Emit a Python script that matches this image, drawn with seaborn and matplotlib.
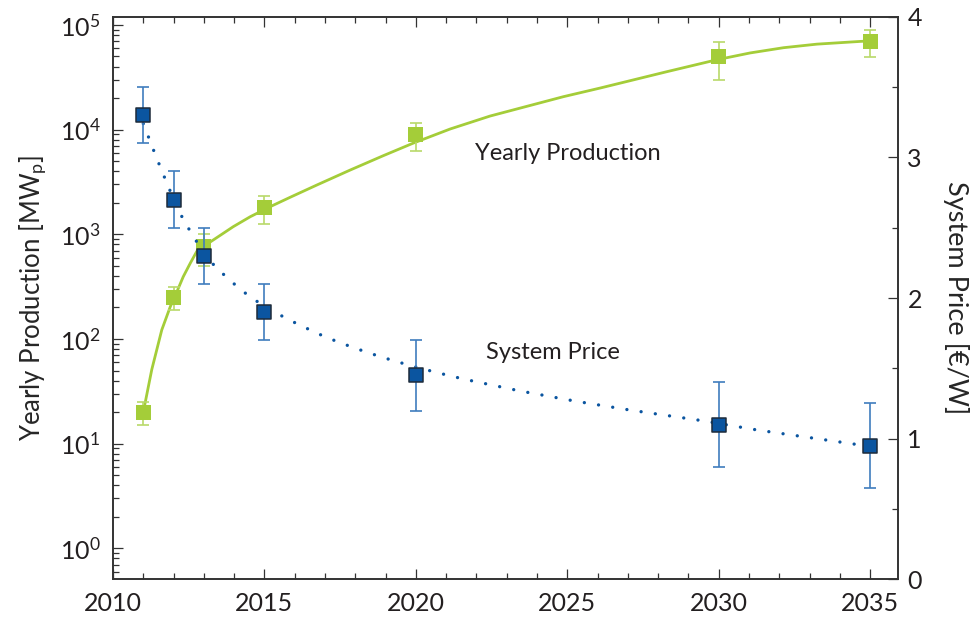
import numpy as np
import pandas as pd
import matplotlib
matplotlib.use("Agg")
import matplotlib.pyplot as plt
import seaborn as sns
from matplotlib.ticker import LogLocator, MultipleLocator, NullFormatter

# ---------------- data ----------------
years = [2011, 2012, 2013, 2015, 2020, 2030, 2035]
production = [20, 250, 760, 1800, 9000, 50000, 70000]
production_low = [15, 190, 500, 1260, 6250, 29800, 49800]
production_high = [25, 312, 1000, 2320, 11700, 69000, 89000]

price = [3.30, 2.70, 2.30, 1.90, 1.45, 1.10, 0.95]
price_err = [0.20, 0.20, 0.20, 0.20, 0.25, 0.30, 0.30]

prod_curve_years = [2011.00, 2011.28, 2011.61, 2011.89, 2012.11, 2012.32, 2012.55,
                    2012.77, 2013.00, 2013.31, 2013.97, 2014.53, 2015.19, 2015.85,
                    2016.73, 2017.83, 2018.93, 2019.92, 2021.13, 2022.45, 2024.87,
                    2026.09, 2027.19, 2028.29, 2029.94, 2031.04, 2032.14, 2033.24,
                    2034.67, 2035.00]
prod_curve_values = [20, 51, 122, 203, 283, 394, 529,
                     690, 770, 883, 1183, 1472, 1837, 2259,
                     2958, 4111, 5649, 7447, 10140, 13490, 20650,
                     25000, 29920, 35810, 46560, 54080, 60670, 65610,
                     69660, 70470]

price_curve_years = [2011.00, 2011.08, 2011.42, 2011.78, 2012.16, 2012.68, 2013.35,
                     2013.81, 2014.25, 2014.72, 2015.19, 2016.10, 2017.03, 2017.94,
                     2018.85, 2019.78, 2020.69, 2021.61, 2023.44, 2025.28, 2027.11,
                     2029.45, 2031.26, 2033.08, 2034.45, 2035.00]
price_curve_values = [3.24, 3.196, 3.006, 2.816, 2.622, 2.425, 2.228,
                      2.136, 2.053, 1.981, 1.915, 1.814, 1.721, 1.647,
                      1.581, 1.522, 1.470, 1.422, 1.339, 1.266, 1.202,
                      1.128, 1.062, 1.005, 0.962, 0.945]

x_ticks = [2010, 2015, 2020, 2025, 2030, 2035]
price_ticks = [0, 1, 2, 3, 4]

# ---------------- style ----------------
GREEN = "#A4CD39"
GREEN_LIGHT = "#B9D96A"
BLUE = "#0B55A0"
BLUE_LIGHT = "#3F7DBE"
BLUE_EDGE = "#1E2B3A"
TEXT = "#231F20"
SPINE = "#333333"

sns.set_theme(style="ticks")
plt.rcParams["font.family"] = ["Lato", "DejaVu Sans"]
plt.rcParams["mathtext.fontset"] = "custom"
plt.rcParams["mathtext.rm"] = "Lato"
plt.rcParams["mathtext.it"] = "Lato:italic"
plt.rcParams["text.color"] = TEXT

fig = plt.figure(figsize=(9.72, 6.17), dpi=100)
ax = fig.add_axes([113 / 972, 1 - 579.3 / 617, (897.7 - 113) / 972, (579.3 - 16.7) / 617])
ax.set_yscale("log")

df_prod = pd.DataFrame({"year": years, "value": production})
df_prod_curve = pd.DataFrame({"year": prod_curve_years, "value": prod_curve_values})

sns.lineplot(data=df_prod_curve, x="year", y="value", ax=ax, color=GREEN,
             linewidth=2.0, zorder=2)
yerr_low = np.array(production) - np.array(production_low)
yerr_high = np.array(production_high) - np.array(production)
ax.errorbar(years, production, yerr=[yerr_low, yerr_high], fmt="none",
            ecolor=GREEN_LIGHT, elinewidth=1.2, capsize=4, capthick=1.2, zorder=2)
sns.scatterplot(data=df_prod, x="year", y="value", ax=ax, marker="s", s=115,
                color=GREEN, edgecolor="none", linewidth=0, zorder=3)

ax.set_xlim(2010, 2035.91)
ax.set_ylim(0.506, 1.2e5)

ax2 = ax.twinx()
df_price = pd.DataFrame({"year": years, "value": price})
df_price_curve = pd.DataFrame({"year": price_curve_years, "value": price_curve_values})
sns.lineplot(data=df_price_curve, x="year", y="value", ax=ax2, color=BLUE,
             linewidth=2.4, linestyle=(0, (0.01, 4.3)), dash_capstyle="round",
             zorder=2)
ax2.errorbar(years, price, yerr=price_err, fmt="none", ecolor=BLUE_LIGHT,
             elinewidth=1.2, capsize=4, capthick=1.2, zorder=2)
sns.scatterplot(data=df_price, x="year", y="value", ax=ax2, marker="s", s=115,
                color=BLUE, edgecolor=BLUE_EDGE, linewidth=1.1, zorder=3)
ax2.set_ylim(0, 4)
ax2.set_xlim(2010, 2035.91)

# ---------------- axes cosmetics ----------------
ax.set_xticks(x_ticks)
ax.xaxis.set_minor_locator(MultipleLocator(1))
ax.yaxis.set_major_locator(LogLocator(base=10, numticks=10))
ax.yaxis.set_minor_locator(LogLocator(base=10, subs=np.arange(2, 10), numticks=20))
ax.yaxis.set_minor_formatter(NullFormatter())
ax2.set_yticks(price_ticks)
ax2.yaxis.set_minor_locator(MultipleLocator(0.5))

for a in (ax, ax2):
    for sp in a.spines.values():
        sp.set_color(SPINE)
        sp.set_linewidth(1.2)
        sp.set_visible(True)

ax.tick_params(axis="x", which="both", direction="in", top=True, bottom=True,
               colors=SPINE, labelcolor=TEXT, labelsize=18, pad=9)
ax.tick_params(axis="x", which="major", length=7.5, width=0.9)
ax.tick_params(axis="x", which="minor", length=4, width=0.9)
ax.tick_params(axis="y", which="both", direction="in", left=True, right=False,
               colors=SPINE, labelcolor=TEXT, labelsize=18, pad=9)
ax.tick_params(axis="y", which="major", length=7.5, width=0.9)
ax.tick_params(axis="y", which="minor", length=4, width=0.9)
ax2.tick_params(axis="y", which="both", direction="in", right=True, left=False,
                colors=SPINE, labelcolor=TEXT, labelsize=18, pad=7)
ax2.tick_params(axis="y", which="major", length=7.5, width=0.9)
ax2.tick_params(axis="y", which="minor", length=4, width=0.9)

ax.set_xlabel("")
ax.set_ylabel(r"Yearly Production [MW$_\mathregular{p}$]", fontsize=18.5, labelpad=8)
ax2.set_ylabel("System Price [€/W]", fontsize=19.5, rotation=270, labelpad=34)
ax2.set_xlabel("")

ax.text(2021.96, 5980, "Yearly Production", fontsize=17, ha="left", va="center")
ax2.text(2022.32, 1.61, "System Price", fontsize=17, ha="left", va="center")

fig.savefig("out.png", dpi=100)
